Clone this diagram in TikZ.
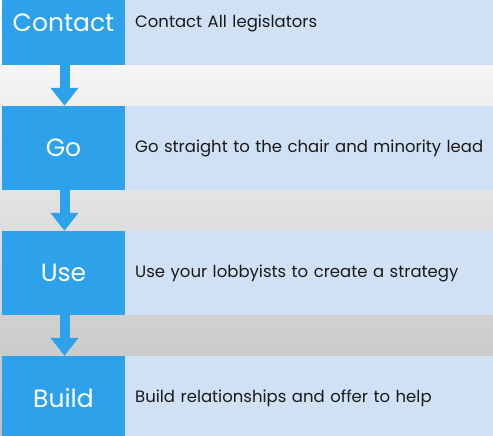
\documentclass[tikz,border=0pt]{standalone}
\usepackage{fontspec}
\setmainfont{Poppins}
\usetikzlibrary{arrows.meta}

\definecolor{stepblue}{RGB}{45,162,235}
\definecolor{paleblue}{RGB}{208,225,246}

\begin{document}
\begin{tikzpicture}[x=1pt,y=1pt,
	label/.style={fill=stepblue,text=white,minimum width=123pt,minimum height=84pt,inner sep=0pt,font=\fontsize{25}{27}\selectfont},
	info/.style={fill=paleblue,text=black!90,minimum height=84pt,text width=360pt,inner xsep=10pt,inner ysep=0pt,align=left,font=\fontsize{16.5}{18}\selectfont},
	flow/.style={stepblue,line width=10pt,-{Triangle[width=27pt,length=18pt]},shorten >=0pt}]
			\useasboundingbox (0,0) rectangle (493,436);
			\clip (0,0) rectangle (493,436);
			\shade[top color=white,bottom color=black!25] (0,0) rectangle (493,436);
			% rows
			\node[label] (contact) at (63.5,413) {Contact};
			\node[info,anchor=west] (contacttxt) at (125,413) {Contact All legislators};
			\node[label] (go) at (63.5,288) {Go};
			\node[info,anchor=west] (gotxt) at (125,288) {Go straight to the chair and minority lead};
			\node[label] (use) at (63.5,163) {Use};
			\node[info,anchor=west] (usetxt) at (125,163) {Use your lobbyists to create a strategy};
			\node[label] (build) at (63.5,38) {Build};
			\node[info,anchor=west] (buildtxt) at (125,38) {Build relationships and offer to help};
			% arrows
			\draw[flow] ([xshift=1pt]contact.south) -- ([xshift=1pt]go.north);
			\draw[flow] ([xshift=1pt]go.south) -- ([xshift=1pt]use.north);
			\draw[flow] ([xshift=1pt]use.south) -- ([xshift=1pt]build.north);
			\end{tikzpicture}
\end{document}
